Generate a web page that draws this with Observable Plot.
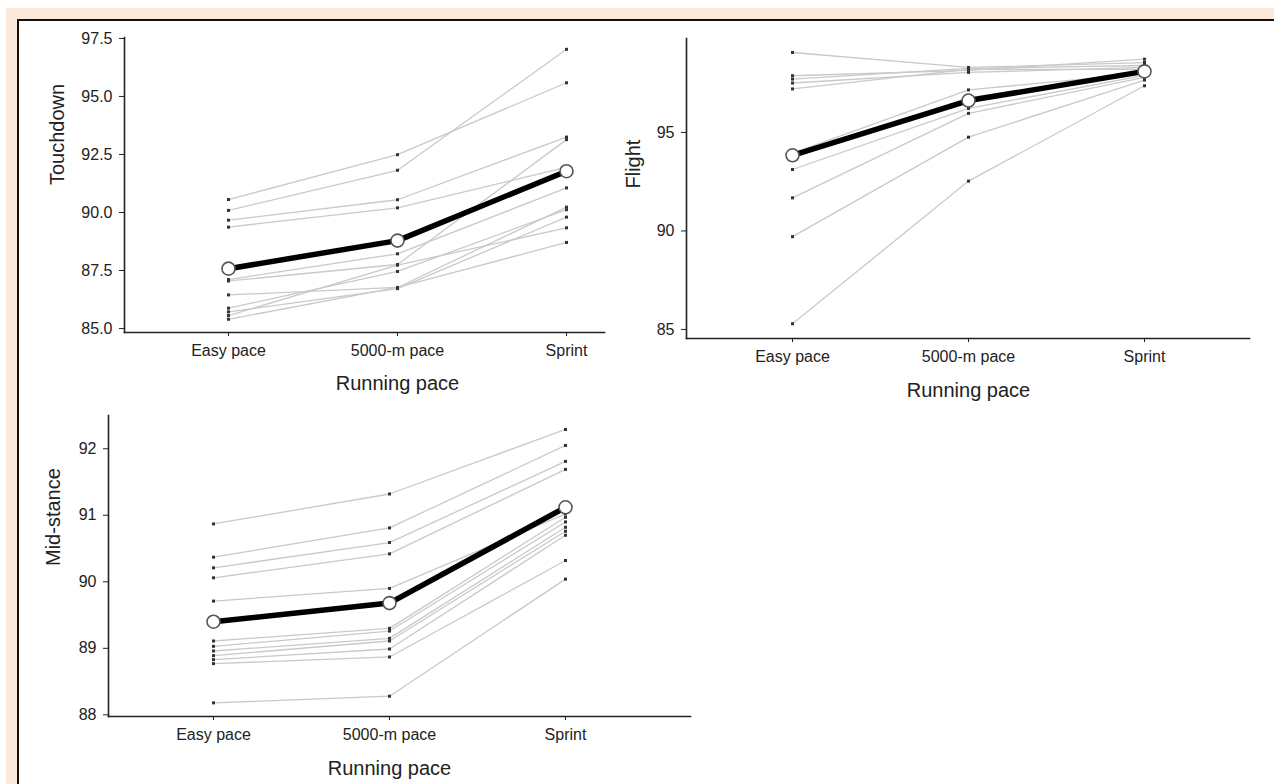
<!DOCTYPE html>
<html><head><meta charset="utf-8">
<script src="https://cdn.jsdelivr.net/npm/d3@7"></script>
<script src="https://cdn.jsdelivr.net/npm/@observablehq/plot@0.6"></script>
<style>
html,body{margin:0;padding:0;background:#fff;}
#wrap{position:relative;width:1274px;height:784px;overflow:hidden;background:#fff;}
#beige{position:absolute;left:6px;top:8px;right:0;bottom:0;background:#fce9db;}
#inner{position:absolute;left:17px;top:19px;right:0;bottom:0;background:#fff;border-top:2px solid #111;border-left:2px solid #111;}
.panel{position:absolute;}
.panel svg{overflow:visible;}
</style></head>
<body><div id="wrap"><div id="beige"></div><div id="inner"></div>
<div id="p1" class="panel" style="left:0;top:0"></div>
<div id="p2" class="panel" style="left:600px;top:0"></div>
<div id="p3" class="panel" style="left:0;top:400px"></div>
</div>
<script>
const paces = ["Easy pace", "5000-m pace", "Sprint"];
const xTitle = "Running pace";

// Touchdown (individual subjects, one value per subject per pace)
const touchdownEasy   = [90.56, 90.09, 89.67, 89.37, 87.11, 87.05, 86.45, 85.88, 85.72, 85.56, 85.40];
const touchdown5000   = [92.49, 91.82, 90.55, 90.20, 88.22, 87.76, 86.77, 87.46, 86.72, 87.73, 86.77];
const touchdownSprint = [95.59, 97.03, 93.25, 91.95, 91.06, 93.14, 90.23, 90.12, 89.80, 89.34, 88.71];
const touchdownMean   = [87.58, 88.79, 91.78];
const touchdownTicks  = [85, 87.5, 90, 92.5, 95, 97.5];

// Flight
const flightEasy   = [99.06, 97.88, 97.71, 97.51, 97.21, 93.95, 93.75, 93.12, 91.68, 89.71, 85.29];
const flight5000   = [98.30, 98.15, 98.25, 98.05, 98.20, 97.16, 96.75, 96.22, 95.97, 94.76, 92.53];
const flightSprint = [98.55, 98.72, 98.40, 98.30, 98.20, 98.00, 98.10, 97.90, 97.80, 97.66, 97.37];
const flightMean   = [93.84, 96.62, 98.10];
const flightTicks  = [85, 90, 95];

// Mid-stance
const midEasy   = [90.87, 90.37, 90.21, 90.06, 89.71, 89.11, 89.03, 88.96, 88.89, 88.83, 88.77, 88.18];
const mid5000   = [91.32, 90.81, 90.59, 90.42, 89.90, 89.30, 89.26, 89.15, 89.11, 88.99, 88.87, 88.28];
const midSprint = [92.29, 92.05, 91.81, 91.69, 91.02, 90.97, 90.90, 90.82, 90.76, 90.70, 90.32, 90.04];
const midMean   = [89.40, 89.68, 91.12];
const midTicks  = [88, 89, 90, 91, 92];

function rows(easy, m5000, sprint) {
  return easy.flatMap((v, i) => [
    {s: i, pace: paces[0], v: v},
    {s: i, pace: paces[1], v: m5000[i]},
    {s: i, pace: paces[2], v: sprint[i]}
  ]);
}
function meanRows(m) { return m.map((v, i) => ({pace: paces[i], v})); }

function panel(o) {
  const data = rows(o.easy, o.m5000, o.sprint);
  const mean = meanRows(o.mean);
  return Plot.plot({
    width: o.width, height: o.height,
    marginLeft: o.left, marginRight: o.width - o.right,
    marginTop: o.top, marginBottom: o.height - o.bottom,
    x: {type: "point", domain: paces, range: o.xr, padding: 0},
    y: {domain: o.ydom, range: [o.bottom, o.top]},
    style: {fontFamily: "'Liberation Sans', Arial, sans-serif", color: "#222", background: "transparent", overflow: "visible"},
    marks: [
      Plot.line(data, {x: "pace", y: "v", z: "s", stroke: "#c9c9c9", strokeWidth: 1.3}),
      Plot.dot(data, {x: "pace", y: "v", symbol: "square", r: 1.7, fill: "#333"}),
      Plot.line(mean, {x: "pace", y: "v", stroke: "#000", strokeWidth: 5.5}),
      Plot.dot(mean, {x: "pace", y: "v", r: 6.5, fill: "#fff", stroke: "#555", strokeWidth: 1.6}),
      Plot.frame({anchor: "left", stroke: "#222", strokeWidth: 1.6}),
      Plot.frame({anchor: "bottom", stroke: "#222", strokeWidth: 1.6}),
      Plot.axisY({ticks: o.ticks, tickFormat: d3.format(o.fmt), tickSize: 5, tickPadding: 7, fontSize: 16, label: null}),
      Plot.axisX({tickSize: 4, tickPadding: 8, fontSize: 16, label: null}),
      Plot.text([xTitle], {x: () => paces[1], frameAnchor: "bottom", dy: o.titleDy, text: d => d, fontSize: 20, lineAnchor: "middle", fill: "#222"}),
      Plot.text([o.ylabel], {frameAnchor: "left", dx: o.ylabelDx, rotate: -90, text: d => d, fontSize: 20, lineAnchor: "middle", fill: "#222"})
    ]
  });
}

document.getElementById("p1").append(panel({
  width: 640, height: 400, left: 124, right: 604, top: 37, bottom: 332,
  xr: [227, 566], ydom: [84.83, 97.54], ticks: touchdownTicks, fmt: ".1f",
  easy: touchdownEasy, m5000: touchdown5000, sprint: touchdownSprint, mean: touchdownMean,
  ylabel: "Touchdown", ylabelDx: -67, titleDy: 51
}));
document.getElementById("p2").append(panel({
  width: 674, height: 400, left: 86, right: 649, top: 38, bottom: 338,
  xr: [192, 544], ydom: [84.54, 99.77], ticks: flightTicks, fmt: "d",
  easy: flightEasy, m5000: flight5000, sprint: flightSprint, mean: flightMean,
  ylabel: "Flight", ylabelDx: -53, titleDy: 52
}));
document.getElementById("p3").append(panel({
  width: 720, height: 384, left: 108, right: 690, top: 15, bottom: 316,
  xr: [213, 565], ydom: [87.975, 92.5], ticks: midTicks, fmt: "d",
  easy: midEasy, m5000: mid5000, sprint: midSprint, mean: midMean,
  ylabel: "Mid-stance", ylabelDx: -55, titleDy: 52
}));
</script>
</body></html>
